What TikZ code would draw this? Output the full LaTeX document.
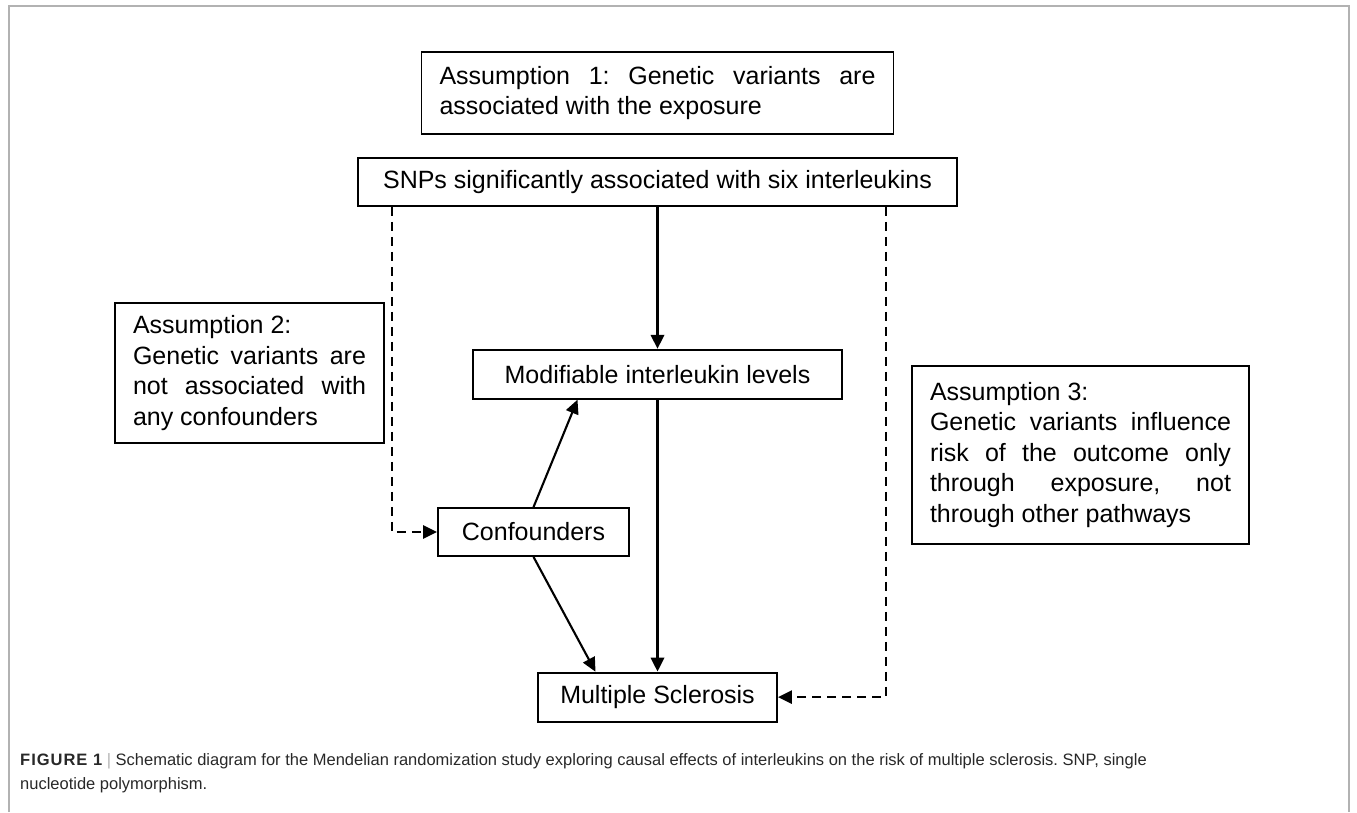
\documentclass[tikz,border=0pt]{standalone}
\usepackage{fontspec}
\setmainfont{Liberation Sans}
\usepackage{tikz}
\usetikzlibrary{arrows.meta, positioning}
\definecolor{framegray}{RGB}{178,178,178}
\definecolor{capgray}{RGB}{40,40,40}
\hyphenpenalty=10000
\frenchspacing

\begin{document}
\begin{tikzpicture}[
      x=1pt, y=-1pt,
      every node/.style={font=\fontsize{25}{30.5}\selectfont},
      box/.style={draw=black, line width=1.8pt, minimum height=48pt,
                  inner xsep=0pt, inner ysep=2pt, align=center},
      assum/.style={draw=black, line width=1.8pt, inner xsep=18pt,
                    inner ysep=4pt, align=justify},
      arrow/.style={-{Triangle[length=14pt, width=13pt]}, line width=3.2pt},
      tarrow/.style={-{Triangle[length=14pt, width=13pt]}, line width=2.1pt},
      darrow/.style={-{Triangle[length=14pt, width=13pt]}, line width=2.6pt,
                     dash pattern=on 9pt off 6pt},
      frame/.style={draw=framegray, line width=1.6pt},
    ]
    \useasboundingbox (0,0) rectangle (1357,812);

    % Marco de la figura
    \draw[frame] (9,812) -- (9,6) -- (1349,6) -- (1349,812);

    % Nodo central: instrumentos
    \node[box, minimum width=599pt] (snp) at (657.5,182)
      {SNPs significantly associated with six interleukins};

    % Supuesto 1
    \node[assum, text width=436pt, minimum height=82pt, above=22pt of snp] (a1)
      {Assumption 1: Genetic variants are\linebreak associated with the exposure};

    % Exposicion y desenlace
    \node[box, minimum width=369pt, minimum height=49pt, below=142pt of snp]
      (levels) {Modifiable interleukin levels};
    \node[box, minimum width=239pt, minimum height=49pt, below=272pt of levels]
      (ms) {Multiple Sclerosis};
    \node[box, minimum width=191pt] (conf) at (533.5,532) {Confounders};

    % Supuestos 2 y 3
    \node[assum, text width=233pt, minimum height=140pt] (a2) at (249.5,373)
      {Assumption 2:\\ Genetic variants are\linebreak not associated with\linebreak
       any confounders};
    \node[assum, text width=301pt, minimum height=178pt] (a3) at (1080.5,455)
      {Assumption 3:\\ Genetic variants influence\linebreak risk of the outcome only\linebreak
       through exposure, not\linebreak through other pathways};

    % Flechas causales
    \draw[arrow] (snp) -- (levels);
    \draw[arrow] (levels) -- (ms);
    \draw[tarrow] (conf.north) -- ([xshift=-80pt]levels.south);
    \draw[tarrow] (conf.south) -- ([xshift=-62pt]ms.north);

    % Caminos excluidos
    \draw[darrow] ([xshift=-265.5pt]snp.south) |- (conf.west);
    \draw[darrow] ([xshift=228.5pt]snp.south) |- (ms.east);

    % Leyenda
    \node[anchor=north west, align=left, inner sep=0pt, text=capgray,
          font=\fontsize{16.5}{24}\selectfont] (caption) at (20,753)
      {{\bfseries\addfontfeature{LetterSpace=6}FIGURE 1} {\color{framegray}|} Schematic diagram for the Mendelian randomization study exploring causal effects of interleukins on the risk of multiple sclerosis. SNP, single\\
       nucleotide polymorphism.};

  \end{tikzpicture}
\end{document}
